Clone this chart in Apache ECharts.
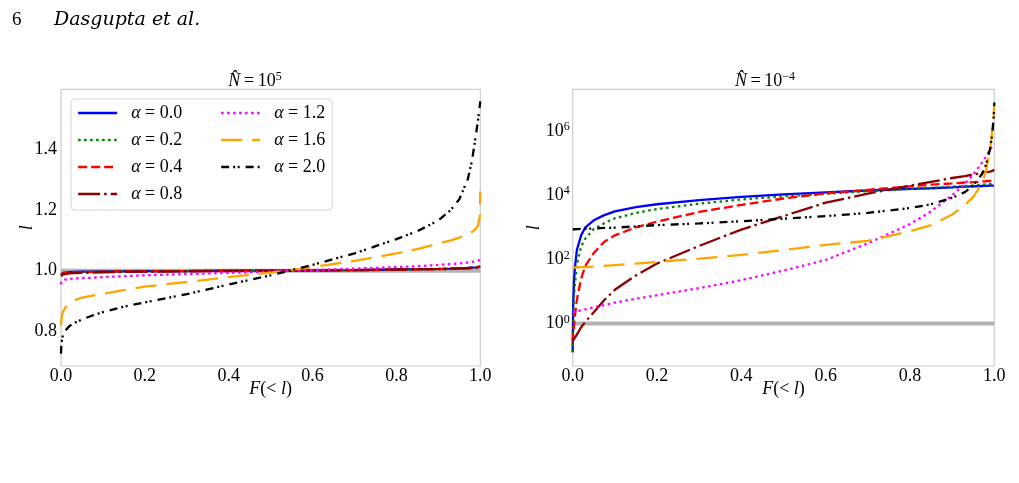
<!DOCTYPE html>
<html><head><meta charset="utf-8">
<script src="https://cdn.jsdelivr.net/npm/echarts@6/dist/echarts.min.js"></script>
<style>html,body{margin:0;padding:0;background:#fff}#c{width:1019px;height:483px}</style>
</head><body><div id="c"></div>
<script>
// Cumulative fraction F(<l), shared sampling grid
const F = [0, 0.001, 0.003, 0.005, 0.01, 0.02, 0.03, 0.05, 0.075, 0.1, 0.15, 0.2, 0.3, 0.4, 0.5, 0.6, 0.7, 0.8, 0.85, 0.9, 0.93, 0.95, 0.97, 0.98, 0.99, 0.995, 0.999, 1.0];
const names = ['α = 0.0', 'α = 0.2', 'α = 0.4', 'α = 0.8', 'α = 1.2', 'α = 1.6', 'α = 2.0'];

// Left panel: N̂ = 10^5 (linear l)
const left_a00 = [0.988, 0.991, 0.992, 0.993, 0.994, 0.995, 0.996, 0.997, 0.997, 0.998, 0.998, 0.999, 0.999, 1.000, 1.000, 1.001, 1.002, 1.004, 1.005, 1.006, 1.007, 1.008, 1.009, 1.010, 1.011, 1.012, 1.013, 1.015];
const left_a02 = [0.987, 0.990, 0.991, 0.992, 0.993, 0.994, 0.995, 0.996, 0.997, 0.997, 0.998, 0.999, 0.999, 1.000, 1.000, 1.001, 1.002, 1.003, 1.004, 1.005, 1.006, 1.007, 1.008, 1.009, 1.010, 1.011, 1.012, 1.013];
const left_a04 = [0.986, 0.989, 0.990, 0.991, 0.992, 0.993, 0.994, 0.995, 0.996, 0.997, 0.998, 0.998, 0.999, 1.000, 1.000, 1.001, 1.002, 1.003, 1.004, 1.005, 1.006, 1.007, 1.008, 1.009, 1.010, 1.011, 1.012, 1.013];
const left_a08 = [0.982, 0.985, 0.987, 0.988, 0.989, 0.991, 0.992, 0.993, 0.994, 0.995, 0.996, 0.997, 0.998, 0.999, 1.000, 1.001, 1.002, 1.004, 1.005, 1.006, 1.007, 1.008, 1.009, 1.010, 1.011, 1.012, 1.013, 1.014];
const left_a12 = [0.955, 0.963, 0.967, 0.969, 0.971, 0.973, 0.974, 0.976, 0.977, 0.979, 0.982, 0.985, 0.989, 0.993, 0.997, 1.002, 1.007, 1.012, 1.015, 1.019, 1.022, 1.024, 1.027, 1.029, 1.031, 1.033, 1.035, 1.037];
const left_a16 = [0.820, 0.840, 0.855, 0.865, 0.878, 0.893, 0.902, 0.912, 0.918, 0.924, 0.936, 0.948, 0.963, 0.979, 0.994, 1.012, 1.032, 1.057, 1.071, 1.089, 1.100, 1.109, 1.119, 1.127, 1.139, 1.150, 1.180, 1.260];
const left_a20 = [0.727, 0.760, 0.780, 0.790, 0.803, 0.818, 0.827, 0.840, 0.853, 0.864, 0.882, 0.896, 0.923, 0.955, 0.985, 1.019, 1.057, 1.104, 1.130, 1.165, 1.200, 1.235, 1.300, 1.360, 1.450, 1.500, 1.545, 1.556];

// Right panel: N̂ = 10^-4 (log l)
const right_a00 = [0.126, 3.16, 20.0, 50.1, 200, 562, 1000, 1660, 2400, 3160, 4270, 5250, 7080, 8910, 10700, 12300, 14100, 15800, 16600, 17800, 18600, 19100, 19500, 19700, 19950, 19950, 20000, 20400];
const right_a02 = [0.126, 1.00, 6.31, 15.8, 70.8, 251, 447, 891, 1350, 1910, 2820, 3720, 5500, 7410, 9330, 11200, 13500, 15800, 17000, 18600, 19500, 20400, 21400, 21900, 22400, 22900, 23400, 23400];
const right_a04 = [0.251, 0.398, 0.794, 1.58, 5.62, 25.1, 63.1, 158, 355, 562, 1000, 1510, 3020, 5010, 7940, 11500, 14800, 19100, 21400, 23400, 25100, 25700, 26900, 27500, 28200, 28200, 28800, 28800];
const right_a08 = [0.282, 0.295, 0.316, 0.355, 0.447, 0.759, 1.12, 2.24, 5.37, 11.2, 31.6, 74.1, 263, 851, 2240, 5890, 11200, 19950, 26300, 34700, 39800, 44700, 50100, 52500, 55000, 57500, 60300, 63100];
const right_a12 = [2.19, 2.24, 2.29, 2.34, 2.40, 2.57, 2.75, 3.16, 3.72, 4.47, 5.89, 7.59, 12.6, 22.4, 44.7, 95.5, 316, 1260, 3160, 10000, 22400, 44700, 100000, 158000, 282000, 331000, 372000, 398000];
const right_a16 = [55.0, 55.0, 55.0, 55.6, 56.2, 56.9, 57.5, 58.9, 62.4, 66.1, 74.1, 83.2, 105, 138, 195, 282, 380, 760, 1170, 2510, 5010, 8910, 22400, 56200, 282000, 1.0e6, 3.98e6, 7.41e6];
const right_a20 = [871, 871, 871, 871, 881, 891, 902, 923, 955, 977, 1070, 1175, 1320, 1550, 1860, 2240, 2820, 3980, 5250, 8320, 12600, 19950, 44700, 89100, 282000, 794000, 3.16e6, 7.94e6];

// Reference line l = 1
const refF = [0, 1];
const refL = [1, 1];

const leftSets = [left_a00, left_a02, left_a04, left_a08, left_a12, left_a16, left_a20];
const rightSets = [right_a00, right_a02, right_a04, right_a08, right_a12, right_a16, right_a20];
const colors = ['#0000ff', '#008000', '#ff0000', '#8b0000', '#ff00ff', '#ffa500', '#000000'];
const dashes = ['solid', [2.5, 3.5], [9, 4], [22, 4, 2.5, 4], [2.5, 3.5], [21, 10], [8, 4, 2, 2.5, 2, 6]];

const FONT = 'Liberation Serif';
const series = [];
[0, 1].forEach(function (g) {
  series.push({
    type: 'line', name: 'ref', xAxisIndex: g, yAxisIndex: g, symbol: 'none', silent: true, z: 1,
    data: refF.map(function (x, i) { return [x, refL[i]]; }),
    lineStyle: { color: '#b4b4b4', width: 4 }
  });
  const sets = g === 0 ? leftSets : rightSets;
  sets.forEach(function (ys, k) {
    series.push({
      type: 'line', name: names[k], xAxisIndex: g, yAxisIndex: g, symbol: 'none', z: 2 + k,
      data: F.map(function (x, i) { return [x, ys[i]]; }),
      color: colors[k],
      lineStyle: { color: colors[k], width: 2.3, type: dashes[k] }
    });
  });
});

const tickLabel = { fontFamily: FONT, fontSize: 18, color: '#000' };
function xAxis(g) {
  return {
    type: 'value', gridIndex: g, min: 0, max: 1, interval: 0.2,
    axisLine: { show: false }, axisTick: { show: false }, splitLine: { show: false },
    axisLabel: Object.assign({ margin: 1, formatter: function (v) { return v.toFixed(1); } }, tickLabel),
    name: '{i|F}(< {i|l})', nameLocation: 'middle', nameGap: 14, nameMoveOverlap: false,
    nameTextStyle: { fontFamily: FONT, fontSize: 18, color: '#000',
      rich: { i: { fontFamily: FONT, fontSize: 18, fontStyle: 'italic', color: '#000' } } }
  };
}
const yName = { fontFamily: FONT, fontSize: 18, fontStyle: 'italic', color: '#000' };

const legendText = {
  fontFamily: FONT, fontSize: 18, color: '#000', lineHeight: 18, padding: [0, 0, 0, 9],
  rich: { a: { fontFamily: FONT, fontSize: 18, fontStyle: 'italic', color: '#000', lineHeight: 18 } }
};
function legendFmt(n) { return '{a|α}' + n.slice(1); }
const noSymbol = { color: 'rgba(0,0,0,0)', borderColor: 'rgba(0,0,0,0)', borderWidth: 0, opacity: 0 };

const option = {
  animation: false,
  backgroundColor: '#fff',
  grid: [
    { left: 61, top: 89.3, width: 419.3, height: 276.7, show: true, borderColor: '#cccccc', borderWidth: 1.2, backgroundColor: 'transparent' },
    { left: 572.7, top: 89.3, width: 421.6, height: 276.7, show: true, borderColor: '#cccccc', borderWidth: 1.2, backgroundColor: 'transparent' }
  ],
  xAxis: [xAxis(0), xAxis(1)],
  yAxis: [
    {
      type: 'value', gridIndex: 0, min: 0.687, max: 1.596,
      axisLine: { show: false }, axisTick: { show: false }, splitLine: { show: false },
      axisLabel: Object.assign({ margin: 4, showMinLabel: false, showMaxLabel: false,
        formatter: function (v) { return v.toFixed(1); } }, tickLabel),
      name: 'l', nameLocation: 'middle', nameGap: 25, nameMoveOverlap: false, nameTextStyle: yName
    },
    {
      type: 'log', logBase: 10, gridIndex: 1, min: 0.0468, max: 2.04e7,
      axisLine: { show: false }, axisTick: { show: false }, splitLine: { show: false }, minorTick: { show: false },
      axisLabel: {
        margin: 3, interval: 0, color: '#000', fontFamily: FONT, fontSize: 18,
        formatter: function (v) {
          const e = Math.log10(v); const r = Math.round(e);
          if (Math.abs(e - r) > 1e-6 || r % 2 !== 0) return '';
          return '{b|10}{s|' + r + '}';
        },
        rich: {
          b: { fontFamily: FONT, fontSize: 18, color: '#000', lineHeight: 20 },
          s: { fontFamily: FONT, fontSize: 12, color: '#000', lineHeight: 11, verticalAlign: 'top' }
        }
      },
      name: 'l', nameLocation: 'middle', nameGap: 29, nameMoveOverlap: false, nameTextStyle: yName
    }
  ],
  legend: [
    {
      data: names.slice(0, 4), orient: 'vertical', left: 71, top: 99, padding: [5, 150, 7, 6],
      itemGap: 9, itemWidth: 39, itemHeight: 14, selectedMode: false,
      borderColor: '#d6d6d6', borderWidth: 1, borderRadius: 4, backgroundColor: 'rgba(255,255,255,0.8)',
      textStyle: legendText, formatter: legendFmt, lineStyle: { width: 2.3 }, itemStyle: noSymbol
    },
    {
      data: names.slice(4), orient: 'vertical', left: 220, top: 104, padding: 0, z: 5,
      itemGap: 9, itemWidth: 39, itemHeight: 14, selectedMode: false,
      textStyle: legendText, formatter: legendFmt, lineStyle: { width: 2.3 }, itemStyle: noSymbol
    }
  ],
  graphic: [
    { type: 'text', x: 12, y: 20, style: { text: '6', font: '19px "Liberation Serif"', fill: '#000', verticalAlign: 'middle' } },
    { type: 'text', x: 54, y: 20, style: { text: 'Dasgupta et al.', font: 'italic 19px "DejaVu Serif"', fill: '#000', verticalAlign: 'middle' } },
    { type: 'text', x: 255, y: 81, style: {
        text: '{i|N\u0302}{n|\u2009=\u200910}{s|5}', align: 'center', verticalAlign: 'middle',
        rich: {
          i: { fontFamily: FONT, fontSize: 18, fontStyle: 'italic', fill: '#000', lineHeight: 20 },
          n: { fontFamily: FONT, fontSize: 18, fill: '#000', lineHeight: 20 },
          s: { fontFamily: FONT, fontSize: 12, fill: '#000', lineHeight: 11, verticalAlign: 'top' }
        } } },
    { type: 'text', x: 765, y: 81, style: {
        text: '{i|N\u0302}{n|\u2009=\u200910}{s|\u22124}', align: 'center', verticalAlign: 'middle',
        rich: {
          i: { fontFamily: FONT, fontSize: 18, fontStyle: 'italic', fill: '#000', lineHeight: 20 },
          n: { fontFamily: FONT, fontSize: 18, fill: '#000', lineHeight: 20 },
          s: { fontFamily: FONT, fontSize: 12, fill: '#000', lineHeight: 11, verticalAlign: 'top' }
        } } }
  ],
  series: series
};
const chart = echarts.init(document.getElementById('c'), null, { renderer: 'canvas' });
chart.setOption(option);
</script></body></html>
